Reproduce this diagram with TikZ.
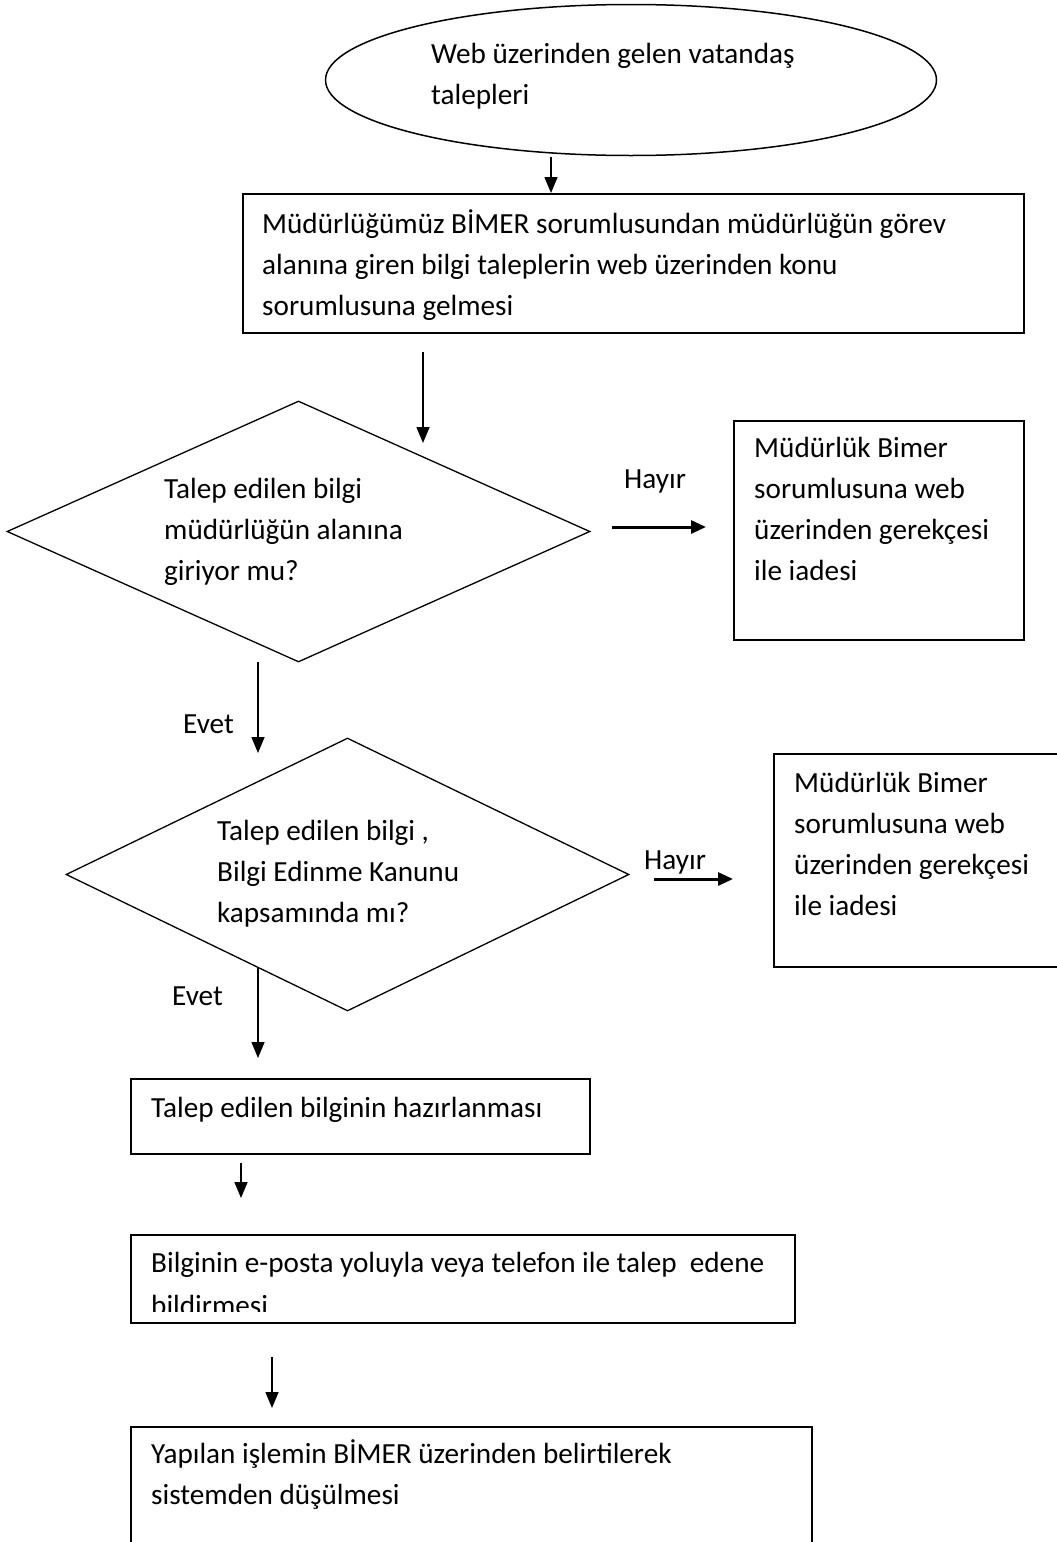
\documentclass[tikz,border=0pt]{standalone}
\usepackage{fontspec}
\setmainfont{Carlito}
\usetikzlibrary{shapes.geometric,arrows.meta}

\begin{document}
\begin{tikzpicture}[x=1pt, y=-1pt]
    \tikzstyle{kutu} = [rectangle, draw, line width=2pt, anchor=north west, inner sep=0pt]
    \tikzstyle{karar} = [diamond, draw, line width=1.3pt, inner sep=0pt]
    \tikzstyle{yazi} = [anchor=base west, align=left, inner sep=0pt, font=\fontsize{29.2}{41}\selectfont]
    \tikzstyle{ok} = [line width=1.5pt, -{Triangle[length=16pt, width=13pt]}]
    \tikzstyle{kalinok} = [line width=3pt, -{Triangle[length=15pt, width=13pt]}]
    \useasboundingbox (0,0) rectangle (1057,1542);

    \node[ellipse, draw, line width=1.5pt, minimum width=611pt, minimum height=151pt] (basla) at (631,80) {};
    \node[yazi] (baslayazi) at (431,104) {Web üzerinden gelen vatandaş\\talepleri};

    \node[kutu, minimum width=781pt, minimum height=139pt] (kutu1) at (242,193) {};
    \node[yazi] (kutu1yazi) at (262,315) {Müdürlüğümüz BİMER sorumlusundan müdürlüğün görev\\alanına giren bilgi taleplerin web üzerinden konu\\sorumlusuna gelmesi};

    \node[karar, minimum width=583pt, minimum height=261pt] (karar1) at (298.5,531.5) {};
    \node[yazi] (karar1yazi) at (164,580) {Talep edilen bilgi\\müdürlüğün alanına\\giriyor mu?};

    \node[kutu, minimum width=290pt, minimum height=219pt] (iade1) at (733,420) {};
    \node[yazi] (iade1yazi) at (754,580) {Müdürlük Bimer\\sorumlusuna web\\üzerinden gerekçesi\\ile iadesi};

    \node[karar, minimum width=563pt, minimum height=273pt] (karar2) at (347.5,874.5) {};
    \node[yazi] (karar2yazi) at (217,922) {Talep edilen bilgi ,\\Bilgi Edinme Kanunu\\kapsamında mı?};

    \node[kutu, minimum width=292pt, minimum height=213pt] (iade2) at (773,753) {};
    \node[yazi] (iade2yazi) at (794,915) {Müdürlük Bimer\\sorumlusuna web\\üzerinden gerekçesi\\ile iadesi};

    \node[kutu, minimum width=459pt, minimum height=75pt] (kutu3) at (130,1078) {};
    \node[yazi] (kutu3yazi) at (151,1117) {Talep edilen bilginin hazırlanması};

    \node[kutu, minimum width=664pt, minimum height=88pt] (kutu4) at (130,1234) {};
    \begin{scope}
        \clip (130,1234) rectangle (794,1311);
        \node[yazi, font=\fontsize{29.2}{43}\selectfont] (kutu4yazi) at (151,1315) {Bilginin e-posta yoluyla veya telefon ile talep\ \ edene\\bildirmesi};
    \end{scope}

    \node[kutu, minimum width=681pt, minimum height=140pt] (kutu5) at (130,1426) {};
    \node[yazi] (kutu5yazi) at (151,1504) {Yapılan işlemin BİMER üzerinden belirtilerek\\sistemden düşülmesi};

    \node[yazi] (hayir1) at (624,488) {Hayır};
    \node[yazi] (evet1) at (183,733) {Evet};
    \node[yazi] (hayir2) at (644,869) {Hayır};
    \node[yazi] (evet2) at (172,1005) {Evet};

    \coordinate (ok1) at (551,157);
    \coordinate (ok2a) at (423,352);
    \coordinate (ok2b) at (423,443);
    \coordinate (ok3a) at (612,527);
    \coordinate (ok3b) at (706,527);
    \coordinate (ok4a) at (258,662);
    \coordinate (ok4b) at (258,753);
    \coordinate (ok5a) at (654,879);
    \coordinate (ok5b) at (733,879);
    \coordinate (ok6a) at (258,967);
    \coordinate (ok6b) at (258,1058);
    \coordinate (ok7a) at (241,1163);
    \coordinate (ok7b) at (241,1198);
    \coordinate (ok8a) at (272,1357);
    \coordinate (ok8b) at (272,1408);

    \draw[ok] (ok1) -- (ok1 |- kutu1.north);
    \draw[ok] (ok2a) -- (ok2b);
    \draw[kalinok] (ok3a) -- (ok3b);
    \draw[ok] (ok4a) -- (ok4b);
    \draw[kalinok] (ok5a) -- (ok5b);
    \draw[ok] (ok6a) -- (ok6b);
    \draw[ok] (ok7a) -- (ok7b);
    \draw[ok] (ok8a) -- (ok8b);
\end{tikzpicture}
\end{document}
